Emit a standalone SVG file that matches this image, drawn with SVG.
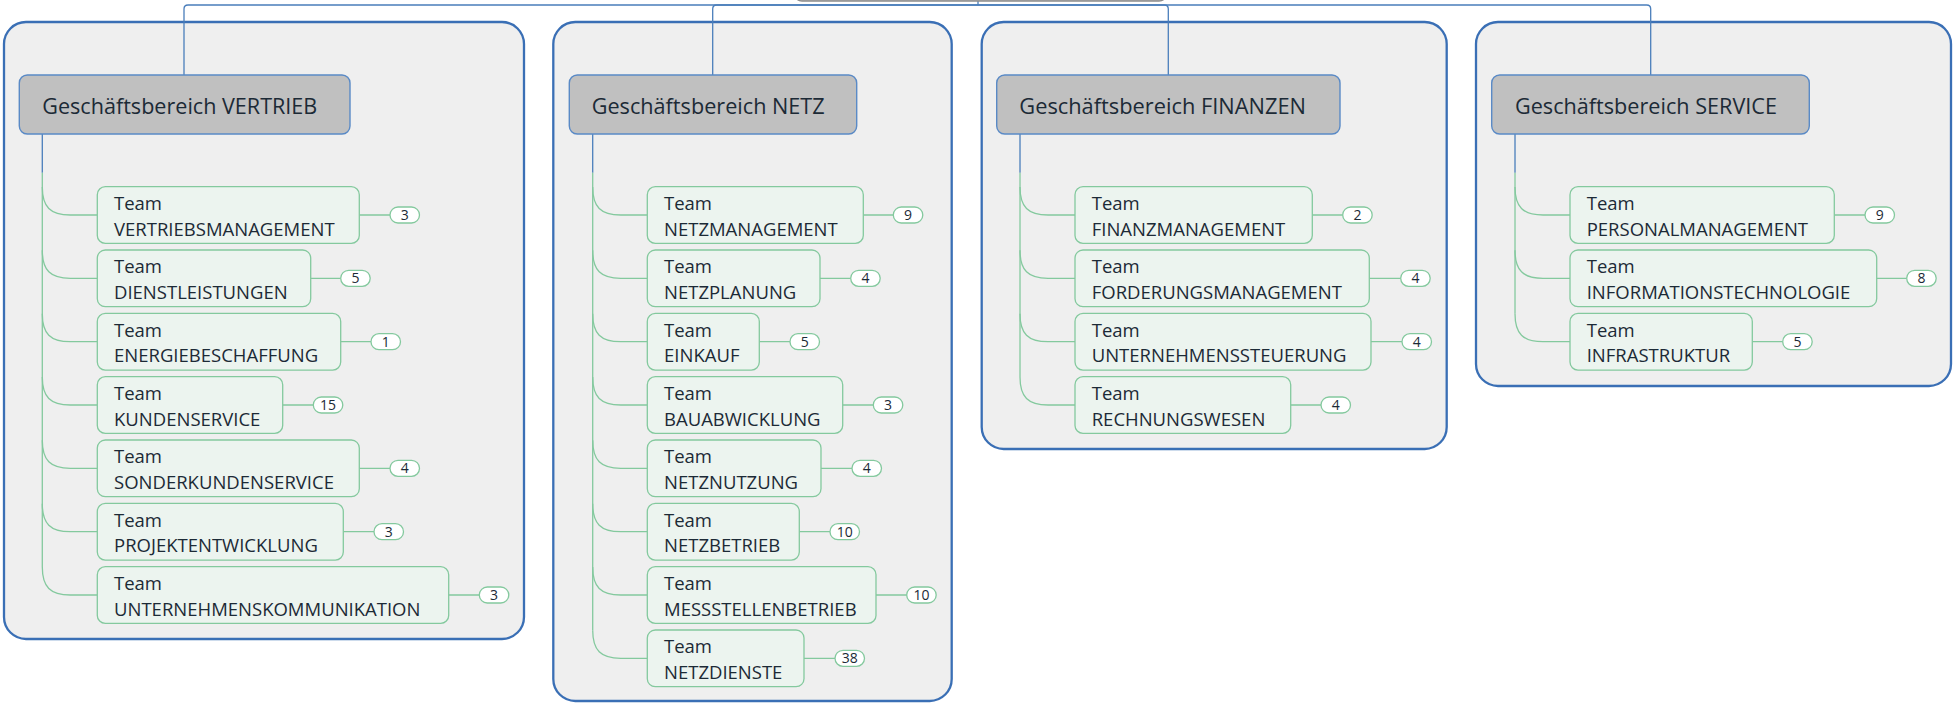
<svg xmlns="http://www.w3.org/2000/svg" width="1953" height="704" viewBox="0 0 1953 704">
<style>
.grp{fill:#efefef;stroke:#3a6fb5;stroke-width:2.3}
.hdr{fill:#c0c0c0;stroke:#5a8ac6;stroke-width:1.4}
.hdrt{font-family:"Open Sans","Noto Sans",sans-serif;font-size:22.5px;fill:#1c2a36}
.team{fill:#ecf4ef;stroke:#84c99e;stroke-width:1.3}
.tt{font-family:"Open Sans","Noto Sans",sans-serif;font-size:18.5px;fill:#1c2a36}
.pill{fill:#ffffff;stroke:#84c99e;stroke-width:1.3}
.pt{font-family:"Open Sans","Noto Sans",sans-serif;font-size:14px;fill:#1c2a36;text-anchor:middle}
.cb{fill:none;stroke:#4a7ebb;stroke-width:1.3}
.cg{fill:none;stroke:#84c99e;stroke-width:1.3}
</style>
<rect width="1953" height="704" fill="#ffffff"/>

<!-- group frames -->
<g id="frames">
<rect class="grp" x="4" y="22" width="520" height="617" rx="22"/>
<rect class="grp" x="553.3" y="22" width="398.4" height="679" rx="22"/>
<rect class="grp" x="981.7" y="22" width="465" height="427" rx="22"/>
<rect class="grp" x="1476" y="22" width="475" height="364" rx="22"/>
</g>

<!-- connectors -->
<g id="connectors">
<line class="cb" x1="978" y1="0" x2="978" y2="5"/>
<path class="cb" d="M978 5 H188 Q184 5 184 9 V75"/>
<path class="cb" d="M978 5 H716.7 Q712.7 5 712.7 9 V75"/>
<path class="cb" d="M978 5 H1164.3 Q1168.3 5 1168.3 9 V75"/>
<path class="cb" d="M978 5 H1646.7 Q1650.7 5 1650.7 9 V75"/>

<!-- VERTRIEB -->
<line class="cb" x1="42.3" y1="134" x2="42.3" y2="172.7"/>
<line class="cg" x1="42.3" y1="172.7" x2="42.3" y2="567"/>
<path class="cg" d="M42.3 187 C42.3 207 50.3 215 70.3 215 H97.3 M359.3 215 H390"/>
<path class="cg" d="M42.3 250.3 C42.3 270.3 50.3 278.3 70.3 278.3 H97.3 M310.7 278.3 H340.7"/>
<path class="cg" d="M42.3 313.7 C42.3 333.7 50.3 341.7 70.3 341.7 H97.3 M340.7 341.7 H371"/>
<path class="cg" d="M42.3 377 C42.3 397 50.3 405 70.3 405 H97.3 M282.7 405 H313.3"/>
<path class="cg" d="M42.3 440.3 C42.3 460.3 50.3 468.3 70.3 468.3 H97.3 M359.3 468.3 H390"/>
<path class="cg" d="M42.3 503.7 C42.3 523.7 50.3 531.7 70.3 531.7 H97.3 M343.3 531.7 H374"/>
<path class="cg" d="M42.3 567 C42.3 587 50.3 595 70.3 595 H97.3 M448.7 595 H479.3"/>

<!-- NETZ -->
<line class="cb" x1="592.7" y1="134" x2="592.7" y2="172.7"/>
<line class="cg" x1="592.7" y1="172.7" x2="592.7" y2="630.3"/>
<path class="cg" d="M592.7 187 C592.7 207 600.7 215 620.7 215 H647.3 M863.3 215 H893.3"/>
<path class="cg" d="M592.7 250.3 C592.7 270.3 600.7 278.3 620.7 278.3 H647.3 M820 278.3 H850.7"/>
<path class="cg" d="M592.7 313.7 C592.7 333.7 600.7 341.7 620.7 341.7 H647.3 M759.3 341.7 H790"/>
<path class="cg" d="M592.7 377 C592.7 397 600.7 405 620.7 405 H647.3 M842.7 405 H873.3"/>
<path class="cg" d="M592.7 440.3 C592.7 460.3 600.7 468.3 620.7 468.3 H647.3 M821 468.3 H852"/>
<path class="cg" d="M592.7 503.7 C592.7 523.7 600.7 531.7 620.7 531.7 H647.3 M799.3 531.7 H830"/>
<path class="cg" d="M592.7 567 C592.7 587 600.7 595 620.7 595 H647.3 M876 595 H906.7"/>
<path class="cg" d="M592.7 630.3 C592.7 650.3 600.7 658.3 620.7 658.3 H647.3 M804 658.3 H835"/>

<!-- FINANZEN -->
<line class="cb" x1="1020" y1="134" x2="1020" y2="172.7"/>
<line class="cg" x1="1020" y1="172.7" x2="1020" y2="377"/>
<path class="cg" d="M1020 187 C1020 207 1028 215 1048 215 H1075 M1312.3 215 H1342.7"/>
<path class="cg" d="M1020 250.3 C1020 270.3 1028 278.3 1048 278.3 H1075 M1369.3 278.3 H1400.7"/>
<path class="cg" d="M1020 313.7 C1020 333.7 1028 341.7 1048 341.7 H1075 M1371 341.7 H1402"/>
<path class="cg" d="M1020 377 C1020 397 1028 405 1048 405 H1075 M1290.7 405 H1321"/>

<!-- SERVICE -->
<line class="cb" x1="1515" y1="134" x2="1515" y2="172.7"/>
<line class="cg" x1="1515" y1="172.7" x2="1515" y2="313.7"/>
<path class="cg" d="M1515 187 C1515 207 1523 215 1543 215 H1570 M1834.3 215 H1865"/>
<path class="cg" d="M1515 250.3 C1515 270.3 1523 278.3 1543 278.3 H1570 M1876.7 278.3 H1906.7"/>
<path class="cg" d="M1515 313.7 C1515 333.7 1523 341.7 1543 341.7 H1570 M1752.3 341.7 H1782.7"/>
</g>

<!-- root (cut off at top) -->
<g id="root">
<rect x="794" y="-40" width="373" height="41" rx="8" fill="#c0c0c0" stroke="#8c8c8c" stroke-width="1.5"/>
</g>

<!-- headers -->
<g id="gb-vertrieb">
<rect class="hdr" x="19.3" y="75" width="330.7" height="59" rx="8"/>
<text class="hdrt" x="42.3" y="114" textLength="275" lengthAdjust="spacingAndGlyphs">Geschäftsbereich VERTRIEB</text>
</g>
<g id="gb-netz">
<rect class="hdr" x="569.3" y="75" width="287.4" height="59" rx="8"/>
<text class="hdrt" x="591.7" y="114" textLength="233" lengthAdjust="spacingAndGlyphs">Geschäftsbereich NETZ</text>
</g>
<g id="gb-finanzen">
<rect class="hdr" x="996.7" y="75" width="343.3" height="59" rx="8"/>
<text class="hdrt" x="1019.3" y="114" textLength="286.7" lengthAdjust="spacingAndGlyphs">Geschäftsbereich FINANZEN</text>
</g>
<g id="gb-service">
<rect class="hdr" x="1491.7" y="75" width="317.6" height="59" rx="8"/>
<text class="hdrt" x="1515" y="114" textLength="262" lengthAdjust="spacingAndGlyphs">Geschäftsbereich SERVICE</text>
</g>

<!-- VERTRIEB teams -->
<g id="t-vertriebsmanagement"><rect class="team" x="97.3" y="186.7" width="262" height="56.7" rx="8"/><text class="tt" x="114" y="210">Team</text><text class="tt" x="114" y="235.7">VERTRIEBSMANAGEMENT</text><rect class="pill" x="390" y="207" width="29.5" height="16" rx="8"/><text class="pt" x="404.7" y="220">3</text></g>
<g id="t-dienstleistungen"><rect class="team" x="97.3" y="250" width="213.4" height="56.7" rx="8"/><text class="tt" x="114" y="273.3">Team</text><text class="tt" x="114" y="299">DIENSTLEISTUNGEN</text><rect class="pill" x="340.7" y="270.3" width="29.5" height="16" rx="8"/><text class="pt" x="355.4" y="283.3">5</text></g>
<g id="t-energiebeschaffung"><rect class="team" x="97.3" y="313.4" width="243.4" height="56.7" rx="8"/><text class="tt" x="114" y="336.7">Team</text><text class="tt" x="114" y="362.4">ENERGIEBESCHAFFUNG</text><rect class="pill" x="371" y="333.7" width="29.5" height="16" rx="8"/><text class="pt" x="385.7" y="346.7">1</text></g>
<g id="t-kundenservice"><rect class="team" x="97.3" y="376.7" width="185.4" height="56.7" rx="8"/><text class="tt" x="114" y="400">Team</text><text class="tt" x="114" y="425.7">KUNDENSERVICE</text><rect class="pill" x="313.3" y="397" width="29.5" height="16" rx="8"/><text class="pt" x="328" y="410">15</text></g>
<g id="t-sonderkundenservice"><rect class="team" x="97.3" y="440" width="262" height="56.7" rx="8"/><text class="tt" x="114" y="463.3">Team</text><text class="tt" x="114" y="489">SONDERKUNDENSERVICE</text><rect class="pill" x="390" y="460.3" width="29.5" height="16" rx="8"/><text class="pt" x="404.7" y="473.3">4</text></g>
<g id="t-projektentwicklung"><rect class="team" x="97.3" y="503.4" width="246" height="56.7" rx="8"/><text class="tt" x="114" y="526.7">Team</text><text class="tt" x="114" y="552.4">PROJEKTENTWICKLUNG</text><rect class="pill" x="374" y="523.7" width="29.5" height="16" rx="8"/><text class="pt" x="388.7" y="536.7">3</text></g>
<g id="t-unternehmenskommunikation"><rect class="team" x="97.3" y="566.7" width="351.4" height="56.7" rx="8"/><text class="tt" x="114" y="590">Team</text><text class="tt" x="114" y="615.7">UNTERNEHMENSKOMMUNIKATION</text><rect class="pill" x="479.3" y="587" width="29.5" height="16" rx="8"/><text class="pt" x="494" y="600">3</text></g>

<!-- NETZ teams -->
<g id="t-netzmanagement"><rect class="team" x="647.3" y="186.7" width="216" height="56.7" rx="8"/><text class="tt" x="664" y="210">Team</text><text class="tt" x="664" y="235.7">NETZMANAGEMENT</text><rect class="pill" x="893.3" y="207" width="29.5" height="16" rx="8"/><text class="pt" x="908" y="220">9</text></g>
<g id="t-netzplanung"><rect class="team" x="647.3" y="250" width="172.7" height="56.7" rx="8"/><text class="tt" x="664" y="273.3">Team</text><text class="tt" x="664" y="299">NETZPLANUNG</text><rect class="pill" x="850.7" y="270.3" width="29.5" height="16" rx="8"/><text class="pt" x="865.4" y="283.3">4</text></g>
<g id="t-einkauf"><rect class="team" x="647.3" y="313.4" width="112" height="56.7" rx="8"/><text class="tt" x="664" y="336.7">Team</text><text class="tt" x="664" y="362.4">EINKAUF</text><rect class="pill" x="790" y="333.7" width="29.5" height="16" rx="8"/><text class="pt" x="804.7" y="346.7">5</text></g>
<g id="t-bauabwicklung"><rect class="team" x="647.3" y="376.7" width="195.4" height="56.7" rx="8"/><text class="tt" x="664" y="400">Team</text><text class="tt" x="664" y="425.7">BAUABWICKLUNG</text><rect class="pill" x="873.3" y="397" width="29.5" height="16" rx="8"/><text class="pt" x="888" y="410">3</text></g>
<g id="t-netznutzung"><rect class="team" x="647.3" y="440" width="173.7" height="56.7" rx="8"/><text class="tt" x="664" y="463.3">Team</text><text class="tt" x="664" y="489">NETZNUTZUNG</text><rect class="pill" x="852" y="460.3" width="29.5" height="16" rx="8"/><text class="pt" x="866.7" y="473.3">4</text></g>
<g id="t-netzbetrieb"><rect class="team" x="647.3" y="503.4" width="152" height="56.7" rx="8"/><text class="tt" x="664" y="526.7">Team</text><text class="tt" x="664" y="552.4">NETZBETRIEB</text><rect class="pill" x="830" y="523.7" width="29.5" height="16" rx="8"/><text class="pt" x="844.7" y="536.7">10</text></g>
<g id="t-messstellenbetrieb"><rect class="team" x="647.3" y="566.7" width="228.7" height="56.7" rx="8"/><text class="tt" x="664" y="590">Team</text><text class="tt" x="664" y="615.7">MESSSTELLENBETRIEB</text><rect class="pill" x="906.7" y="587" width="29.5" height="16" rx="8"/><text class="pt" x="921.4" y="600">10</text></g>
<g id="t-netzdienste"><rect class="team" x="647.3" y="630" width="156.7" height="56.7" rx="8"/><text class="tt" x="664" y="653.3">Team</text><text class="tt" x="664" y="679">NETZDIENSTE</text><rect class="pill" x="835" y="650.3" width="29.5" height="16" rx="8"/><text class="pt" x="849.7" y="663.3">38</text></g>

<!-- FINANZEN teams -->
<g id="t-finanzmanagement"><rect class="team" x="1075" y="186.7" width="237.3" height="56.7" rx="8"/><text class="tt" x="1091.7" y="210">Team</text><text class="tt" x="1091.7" y="235.7">FINANZMANAGEMENT</text><rect class="pill" x="1342.7" y="207" width="29.5" height="16" rx="8"/><text class="pt" x="1357.4" y="220">2</text></g>
<g id="t-forderungsmanagement"><rect class="team" x="1075" y="250" width="294.3" height="56.7" rx="8"/><text class="tt" x="1091.7" y="273.3">Team</text><text class="tt" x="1091.7" y="299">FORDERUNGSMANAGEMENT</text><rect class="pill" x="1400.7" y="270.3" width="29.5" height="16" rx="8"/><text class="pt" x="1415.4" y="283.3">4</text></g>
<g id="t-unternehmenssteuerung"><rect class="team" x="1075" y="313.4" width="296" height="56.7" rx="8"/><text class="tt" x="1091.7" y="336.7">Team</text><text class="tt" x="1091.7" y="362.4">UNTERNEHMENSSTEUERUNG</text><rect class="pill" x="1402" y="333.7" width="29.5" height="16" rx="8"/><text class="pt" x="1416.7" y="346.7">4</text></g>
<g id="t-rechnungswesen"><rect class="team" x="1075" y="376.7" width="215.7" height="56.7" rx="8"/><text class="tt" x="1091.7" y="400">Team</text><text class="tt" x="1091.7" y="425.7">RECHNUNGSWESEN</text><rect class="pill" x="1321" y="397" width="29.5" height="16" rx="8"/><text class="pt" x="1335.7" y="410">4</text></g>

<!-- SERVICE teams -->
<g id="t-personalmanagement"><rect class="team" x="1570" y="186.7" width="264.3" height="56.7" rx="8"/><text class="tt" x="1586.7" y="210">Team</text><text class="tt" x="1586.7" y="235.7">PERSONALMANAGEMENT</text><rect class="pill" x="1865" y="207" width="29.5" height="16" rx="8"/><text class="pt" x="1879.7" y="220">9</text></g>
<g id="t-informationstechnologie"><rect class="team" x="1570" y="250" width="306.7" height="56.7" rx="8"/><text class="tt" x="1586.7" y="273.3">Team</text><text class="tt" x="1586.7" y="299">INFORMATIONSTECHNOLOGIE</text><rect class="pill" x="1906.7" y="270.3" width="29.5" height="16" rx="8"/><text class="pt" x="1921.4" y="283.3">8</text></g>
<g id="t-infrastruktur"><rect class="team" x="1570" y="313.4" width="182.3" height="56.7" rx="8"/><text class="tt" x="1586.7" y="336.7">Team</text><text class="tt" x="1586.7" y="362.4">INFRASTRUKTUR</text><rect class="pill" x="1782.7" y="333.7" width="29.5" height="16" rx="8"/><text class="pt" x="1797.4" y="346.7">5</text></g>
</svg>
